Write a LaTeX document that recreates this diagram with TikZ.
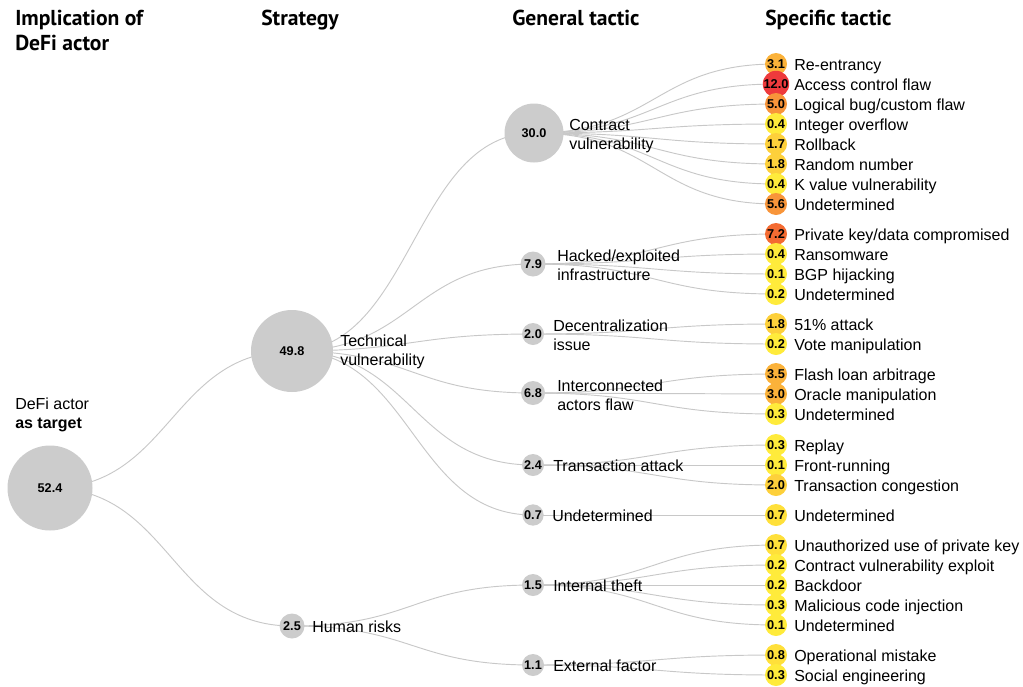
\documentclass[tikz,border=0pt]{standalone}
\usepackage{fontspec}
\setmainfont{Liberation Sans}
\newfontfamily\headfont{PT Sans}
\usetikzlibrary{calc}
\pgfdeclarelayer{bg}
\pgfsetlayers{bg,main}
\definecolor{grayc}{HTML}{CCCCCC}
\definecolor{linkc}{HTML}{C8C8C8}
\definecolor{cy}{HTML}{FFEB3B}
\definecolor{cyy}{HTML}{FFE03A}
\definecolor{ctwo}{HTML}{FDD03B}
\definecolor{cthree}{HTML}{FBB23A}
\definecolor{cfive}{HTML}{F8953A}
\definecolor{cseven}{HTML}{F46B32}
\definecolor{ctwelve}{HTML}{EE3A3C}
\tikzset{
  link/.style={draw=linkc, line width=0.7pt},
  gcirc/.style={circle, fill=grayc, inner sep=0pt, font=\fontsize{9.5}{11}\selectfont\bfseries},
  leafc/.style={circle, inner sep=0pt, minimum size=16.5pt, font=\fontsize{9.6}{11}\selectfont\bfseries},
  lbl/.style={anchor=base west, inner sep=0pt, font=\fontsize{12}{14.5}\selectfont},
  lbltwo/.style={anchor=west, inner sep=0pt, align=left, font=\fontsize{12}{14.5}\selectfont},
  head/.style={anchor=base west, inner sep=0pt, font=\headfont\fontsize{16.2}{19}\selectfont\bfseries},
}
\newcommand\lnk[2]{\draw[link] let \p1=(#1.center), \p2=(#2.center) in (#1.center) .. controls ({(\x1+\x2)/2},\y1) and ({(\x1+\x2)/2},\y2) .. (#2.center);}
\newcommand\leaf[5]{\node[leafc, fill=#4] (#1) at (776,#2) {#3};
  \node[lbl] (#1t) at (794,#2+6.6) {#5};}
\begin{document}
\begin{tikzpicture}[x=0.75pt, y=-0.75pt]
\useasboundingbox (0,0) rectangle (1023,686);
% headers
\node[head] (h1a) at (15,25) {Implication of};
\node[head] (h1b) at (15,50) {DeFi actor};
\node[head] (h2) at (261,25) {Strategy};
\node[head] (h3) at (512,25) {General tactic};
\node[head] (h4) at (765,25) {Specific tactic};
% root
\node[gcirc, minimum size=63.75pt] (r) at (50,488) {52.4};
\node[lbltwo] (rt) at (15,415) {DeFi actor\\\textbf{as target}};
% strategy
\node[gcirc, minimum size=61.5pt] (s1) at (292,351) {49.8};
\node[lbltwo] (s1t) at (340,352) {Technical\\vulnerability};
\node[gcirc, minimum size=18.75pt] (s2) at (292,626) {2.5};
\node[lbl] (s2t) at (312,632.6) {Human risks};
% general tactics
\node[gcirc, minimum size=44.25pt] (g1) at (534,133) {30.0};
\node[lbltwo] (g1t) at (569,136) {Contract\\vulnerability};
\node[gcirc, minimum size=18.75pt] (g2) at (533,264) {7.9};
\node[lbltwo] (g2t) at (557,265) {Hacked/exploited\\infrastructure};
\node[gcirc, minimum size=16.5pt] (g3) at (533,334) {2.0};
\node[lbltwo] (g3t) at (553,335.5) {Decentralization\\issue};
\node[gcirc, minimum size=18pt] (g4) at (533,393) {6.8};
\node[lbltwo] (g4t) at (557,395) {Interconnected\\actors flaw};
\node[gcirc, minimum size=16.5pt] (g5) at (533,465) {2.4};
\node[lbl] (g5t) at (553,471.6) {Transaction attack};
\node[gcirc, minimum size=16pt] (g6) at (533,515) {0.7};
\node[lbl] (g6t) at (552,521.6) {Undetermined};
\node[gcirc, minimum size=16.5pt] (g7) at (533,585) {1.5};
\node[lbl] (g7t) at (553,591.6) {Internal theft};
\node[gcirc, minimum size=16.5pt] (g8) at (533,665) {1.1};
\node[lbl] (g8t) at (553,671.6) {External factor};
% specific tactics
\leaf{l1}{64}{3.1}{cthree}{Re-entrancy}
\node[leafc, fill=ctwelve, minimum size=18.5pt] (l2) at (776,84) {12.0};
\node[lbl] (l2t) at (794,90.6) {Access control flaw};
\leaf{l3}{104}{5.0}{cfive}{Logical bug/custom flaw}
\leaf{l4}{124}{0.4}{cy}{Integer overflow}
\leaf{l5}{144}{1.7}{ctwo}{Rollback}
\leaf{l6}{164}{1.8}{ctwo}{Random number}
\leaf{l7}{184}{0.4}{cy}{K value vulnerability}
\leaf{l8}{204}{5.6}{cfive}{Undetermined}
\leaf{l9}{234}{7.2}{cseven}{Private key/data compromised}
\leaf{l10}{254}{0.4}{cy}{Ransomware}
\leaf{l11}{274}{0.1}{cy}{BGP hijacking}
\leaf{l12}{294}{0.2}{cy}{Undetermined}
\leaf{l13}{324}{1.8}{ctwo}{51\% attack}
\leaf{l14}{344}{0.2}{cy}{Vote manipulation}
\leaf{l15}{374}{3.5}{cthree}{Flash loan arbitrage}
\leaf{l16}{394}{3.0}{cthree}{Oracle manipulation}
\leaf{l17}{414}{0.3}{cy}{Undetermined}
\leaf{l18}{445}{0.3}{cy}{Replay}
\leaf{l19}{465}{0.1}{cy}{Front-running}
\leaf{l20}{485}{2.0}{ctwo}{Transaction congestion}
\leaf{l21}{515}{0.7}{cyy}{Undetermined}
\leaf{l22}{545}{0.7}{cyy}{Unauthorized use of private key}
\leaf{l23}{565}{0.2}{cy}{Contract vulnerability exploit}
\leaf{l24}{585}{0.2}{cy}{Backdoor}
\leaf{l25}{605}{0.3}{cy}{Malicious code injection}
\leaf{l26}{625}{0.1}{cy}{Undetermined}
\leaf{l27}{655}{0.8}{cyy}{Operational mistake}
\leaf{l28}{675}{0.3}{cy}{Social engineering}
% connectors
\begin{pgfonlayer}{bg}
\lnk{r}{s1}\lnk{r}{s2}
\lnk{s1}{g1}\lnk{s1}{g2}\lnk{s1}{g3}\lnk{s1}{g4}\lnk{s1}{g5}\lnk{s1}{g6}
\lnk{s2}{g7}\lnk{s2}{g8}
\lnk{g1}{l1}\lnk{g1}{l2}\lnk{g1}{l3}\lnk{g1}{l4}\lnk{g1}{l5}\lnk{g1}{l6}\lnk{g1}{l7}\lnk{g1}{l8}
\lnk{g2}{l9}\lnk{g2}{l10}\lnk{g2}{l11}\lnk{g2}{l12}
\lnk{g3}{l13}\lnk{g3}{l14}
\lnk{g4}{l15}\lnk{g4}{l16}\lnk{g4}{l17}
\lnk{g5}{l18}\lnk{g5}{l19}\lnk{g5}{l20}
\lnk{g6}{l21}
\lnk{g7}{l22}\lnk{g7}{l23}\lnk{g7}{l24}\lnk{g7}{l25}\lnk{g7}{l26}
\lnk{g8}{l27}\lnk{g8}{l28}
\end{pgfonlayer}
\end{tikzpicture}
\end{document}
